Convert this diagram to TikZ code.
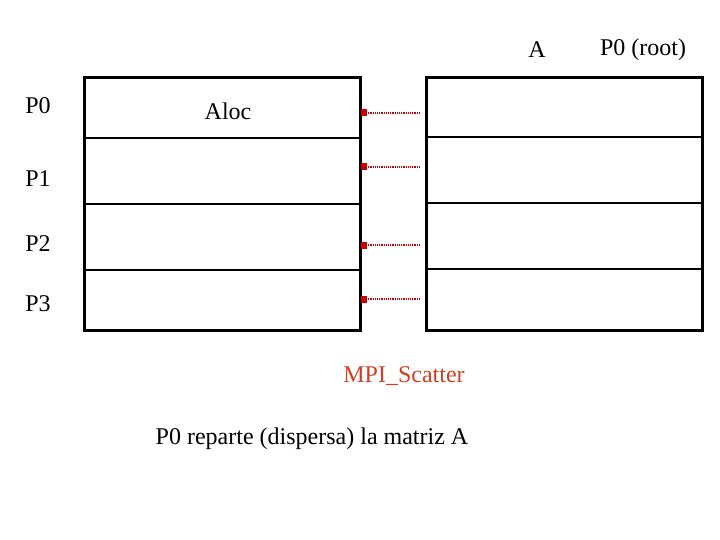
\documentclass[tikz,border=0pt]{standalone}
\usepackage{fontspec}
\setmainfont{Liberation Serif}
\usetikzlibrary{arrows.meta}
\begin{document}
\begin{tikzpicture}[x=1pt,y=-1pt,
  lbl/.style={font=\fontsize{24}{26}\selectfont, inner sep=0pt, anchor=center},
  outerbox/.style={draw=black, line width=3pt},
  divider/.style={draw=black, line width=2pt},
  scat/.style={draw={rgb,255:red,200;green,0;blue,0}, line width=2pt, dash pattern=on 1.2pt off 1pt, -{Square[length=6pt,width=7pt]}}]
\useasboundingbox (0,0) rectangle (720,540);
% left matrix
\node[outerbox, minimum width=276pt, minimum height=252pt, inner sep=0pt] (L) at (222,204) {};
\draw[divider] (84,138) -- (360,138);
\draw[divider] (84,204) -- (360,204);
\draw[divider] (84,270) -- (360,270);
% right matrix
\node[outerbox, minimum width=276pt, minimum height=252pt, inner sep=0pt] (R) at (564,204) {};
\draw[divider] (426,137) -- (702,137);
\draw[divider] (426,203) -- (702,203);
\draw[divider] (426,269) -- (702,269);
% labels
\node[lbl] (tA) at (537,50) {A};
\node[lbl] (troot) at (643,50) {P0 (root)};
\node[lbl] (p0) at (38,106) {P0};
\node[lbl] (aloc) at (228,111) {Aloc};
\node[lbl] (p1) at (38,179) {P1};
\node[lbl] (p2) at (38,244) {P2};
\node[lbl] (p3) at (38,304) {P3};
\node[lbl, text={rgb,255:red,208;green,64;blue,32}] (mpi) at (404,376) {MPI\_Scatter};
\node[lbl] (desc) at (312,439) {P0 reparte (dispersa) la matriz A};
% arrows
\foreach \y/\n in {113/a,167/b,245/c,299/d}{
  \coordinate (s\n) at (420,\y);
  \coordinate (e\n) at (361,\y);
  \draw[scat] (s\n) -- (e\n);
}
\end{tikzpicture}
\end{document}
